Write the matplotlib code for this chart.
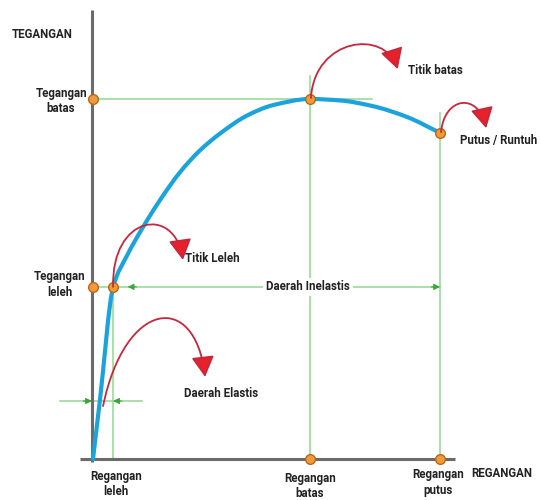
import matplotlib
matplotlib.use("Agg")
import matplotlib.pyplot as plt
from matplotlib.patches import FancyArrowPatch, PathPatch
from matplotlib.path import Path

# Stress-strain curve of a ductile material (relative units)
strain = [0, 2.0, 5.8, 9.8, 14.4, 19.3, 25.1, 30.8, 36.6, 44.4, 51.9, 62.5, 71.2, 80.7, 90.5, 100]
stress = [0, 16.4, 47.8, 56.5, 64.4, 71.9, 79.7, 85.7, 90.4, 95.4, 98.3, 100, 99.6, 98.0, 95.0, 90.6]

# Characteristic points
yield_strain, yield_stress = 5.8, 47.8
ult_strain, ult_stress = 62.5, 100
rup_strain, rup_stress = 100, 90.6

# Labels
y_title = "TEGANGAN"
x_title = "REGANGAN"
y_labels = ["Tegangan\nbatas", "Tegangan\nleleh"]
x_labels = ["Regangan\nleleh", "Regangan\nbatas", "Regangan\nputus"]
callouts = ["Titik Leleh", "Daerah Elastis", "Titik batas", "Putus / Runtuh"]
region_label = "Daerah Inelastis"

plt.rcParams["font.family"] = ["Roboto", "DejaVu Sans"]

BLUE = "#1ca3db"
GRAY = "#6b6b6b"
LGREEN = "#92d692"
DGREEN = "#3aa53a"
ORANGE = "#f09a3a"
OEDGE = "#b8671c"
RLINE = "#c3283e"
RHEAD = "#e8202a"

fig = plt.figure(figsize=(5.41, 5.0), dpi=100)
ax = fig.add_axes([0, 0, 1, 1])
ax.set_xlim(-26.8, 129.1)
ax.set_ylim(-11.4, 127.5)
ax.axis("off")

# axes lines
ax.plot([-0.3, -0.3], [-0.8, 124.7], color=GRAY, lw=2.2, solid_capstyle="butt", zorder=3)
ax.plot([-3.7, 104.3], [0, 0], color=GRAY, lw=2.2, solid_capstyle="butt", zorder=3)

# guide lines
gl = dict(color=LGREEN, lw=1.1, zorder=1)
ax.plot([0, 80.4], [ult_stress, ult_stress], **gl)
ax.plot([ult_strain, ult_strain], [106.5, 0], **gl)
ax.plot([rup_strain, rup_strain], [96, 0], **gl)
ax.plot([yield_strain, yield_strain], [yield_stress, 0], **gl)
ax.plot([0, rup_strain], [yield_stress, yield_stress], **gl)
ax.plot([-9.5, 14.1], [16.1, 16.1], **gl)


def green_head(tip, direction, y):
    ax.annotate("", xy=(tip, y), xytext=(tip - direction * 2.5, y),
                arrowprops=dict(arrowstyle="-|>", color=DGREEN, lw=0.8,
                                mutation_scale=9, shrinkA=0, shrinkB=0), zorder=2)


green_head(10.0, -1, yield_stress)
green_head(rup_strain, 1, yield_stress)
green_head(-0.3, 1, 16.1)
green_head(5.8, -1, 16.1)


# curve: monotone cubic (Fritsch-Carlson) rendering through the measured points
def smooth_path(xs, ys):
    n = len(xs)
    h = [xs[i + 1] - xs[i] for i in range(n - 1)]
    d = [(ys[i + 1] - ys[i]) / h[i] for i in range(n - 1)]
    m = [0.0] * n
    m[0], m[-1] = d[0], d[-1]
    for i in range(1, n - 1):
        if d[i - 1] * d[i] > 0:
            m[i] = 2 * d[i - 1] * d[i] / (d[i - 1] + d[i])
    verts = [(xs[0], ys[0])]
    codes = [Path.MOVETO]
    for i in range(n - 1):
        k = h[i] / 3
        verts += [(xs[i] + k, ys[i] + m[i] * k),
                  (xs[i + 1] - k, ys[i + 1] - m[i + 1] * k),
                  (xs[i + 1], ys[i + 1])]
        codes += [Path.CURVE4] * 3
    return Path(verts, codes)


ax.add_patch(PathPatch(smooth_path(strain, stress), fc="none", ec=BLUE, lw=3.0,
                       capstyle="round", joinstyle="round", zorder=4))

# markers
mk = dict(marker="o", ms=7, mfc=ORANGE, mec=OEDGE, mew=1.0, ls="none", zorder=6)
ax.plot([0, 0], [ult_stress, yield_stress], **mk)
ax.plot([yield_strain, ult_strain, rup_strain], [yield_stress, ult_stress, rup_stress], **mk)
ax.plot([ult_strain, rup_strain], [0, 0], **mk)


def red_arc(pts):
    path = Path(pts, [Path.MOVETO, Path.CURVE4, Path.CURVE4, Path.CURVE4])
    arr = FancyArrowPatch(path=path, arrowstyle="-|>,head_length=0.9,head_width=0.5",
                          mutation_scale=14, color=RLINE, lw=1.3, zorder=7)
    arr.set_facecolor(RHEAD)
    arr.set_edgecolor(RLINE)
    ax.add_patch(arr)


red_arc([(5.8, 47.8), (5.2, 67.8), (23.6, 70.6), (25.9, 55.3)])
red_arc([(2.9, 14.7), (9.2, 44.2), (29.4, 46.9), (32.3, 22.8)])
red_arc([(62.8, 100.3), (63.9, 117.0), (84.1, 119.5), (87.8, 108.3)])
red_arc([(100.3, 90.8), (101.2, 100.6), (111.0, 102.0), (113.3, 91.9)])

# texts
tk = dict(fontsize=8.3, fontweight="bold", color="#222222", linespacing=1.25, zorder=8)
ax.text(-23.3, 117.8, y_title, ha="left", va="center", **tk)
ax.text(108.9, -3.9, x_title, ha="left", va="center", **tk)
ax.text(-9.2, 99.5, y_labels[0], ha="center", va="center", **tk)
ax.text(-9.5, 48.4, y_labels[1], ha="center", va="center", **tk)
ax.text(6.6, -7.0, x_labels[0], ha="center", va="center", **tk)
ax.text(62.5, -7.5, x_labels[1], ha="center", va="center", **tk)
ax.text(99.4, -6.5, x_labels[2], ha="center", va="center", **tk)
ax.text(26.5, 55.8, callouts[0], ha="left", va="center", **tk)
ax.text(26.2, 18.1, callouts[1], ha="left", va="center", **tk)
ax.text(90.8, 108.0, callouts[2], ha="left", va="center", **tk)
ax.text(105.8, 88.6, callouts[3], ha="left", va="center", **tk)
ax.text(62.0, yield_stress, region_label, ha="center", va="center",
        bbox=dict(boxstyle="square,pad=0.25", fc="white", ec="none"), **tk)

fig.savefig("out.png", dpi=100)
